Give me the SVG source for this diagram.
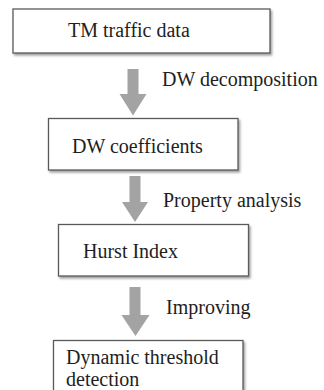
<svg xmlns="http://www.w3.org/2000/svg" width="324" height="390" viewBox="0 0 324 390">
<defs>
<style>
.box{fill:#ffffff;stroke:#5a5a5a;stroke-width:1.3;filter:url(#sh)}
.t{font-family:'Liberation Serif','DejaVu Serif',serif;font-size:20px;fill:#1e1e1e}
.arr{fill:#a3a3a3}
</style>
<filter id="sh" x="-10%" y="-10%" width="120%" height="130%">
<feDropShadow dx="1.5" dy="2" stdDeviation="0.8" flood-color="#777777" flood-opacity="0.7"/>
</filter>
</defs>
<rect width="324" height="390" fill="#ffffff"/>
<g id="node-tm">
<rect class="box" x="13" y="9" width="257" height="44"/>
<text class="t" x="68" y="37">TM traffic data</text>
</g>
<g id="node-dw">
<rect class="box" x="48.5" y="118.5" width="189.5" height="51.5"/>
<text class="t" x="72" y="153">DW coefficients</text>
</g>
<g id="node-hurst">
<rect class="box" x="58.5" y="224.5" width="190" height="51.5"/>
<text class="t" x="83" y="258">Hurst Index</text>
</g>
<g id="node-dyn">
<rect class="box" x="53.5" y="340.5" width="189.5" height="60"/>
<text class="t" x="66" y="364">Dynamic threshold</text>
<text class="t" x="66" y="386">detection</text>
</g>
<g id="connectors">
<polygon class="arr" points="127.5,69 138.5,69 138.5,94 146.5,94 133,115.5 119.5,94 127.5,94"/>
<polygon class="arr" points="129.5,176 140.5,176 140.5,202 148,202 135,222 122,202 129.5,202"/>
<polygon class="arr" points="129.5,287 140.5,287 140.5,315 149.5,315 135.5,336 121.5,315 129.5,315"/>
<text class="t" x="162" y="86">DW decomposition</text>
<text class="t" x="163" y="207">Property analysis</text>
<text class="t" x="166" y="314">Improving</text>
</g>
</svg>
